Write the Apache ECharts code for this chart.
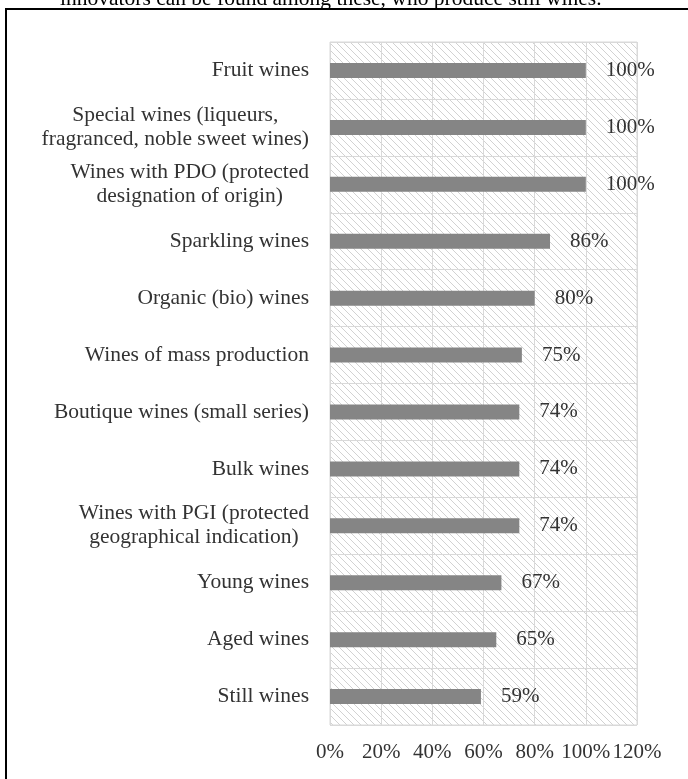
<!DOCTYPE html>
<html>
<head>
<meta charset="utf-8">
<title>Wine categories</title>
<script src="https://cdn.jsdelivr.net/npm/echarts@6/dist/echarts.min.js"></script>
<style>
  html, body { margin: 0; padding: 0; background: #ffffff; }
  #chart { width: 688px; height: 779px; }
</style>
</head>
<body>
<div id="chart"></div>
<script>
// Wine categories, listed top to bottom
const categories = [
  'Fruit wines',
  'Special wines (liqueurs,\nfragranced, noble sweet wines)',
  'Wines with PDO (protected\ndesignation of origin)',
  'Sparkling wines',
  'Organic (bio) wines',
  'Wines of mass production',
  'Boutique wines (small series)',
  'Bulk wines',
  'Wines with PGI (protected\ngeographical indication)',
  'Young wines',
  'Aged wines',
  'Still wines'
];

// Share of producers, percent
const shares = [100, 100, 100, 86, 80, 75, 74, 74, 74, 67, 65, 59];

// Value axis ticks
const axisMin = 0;
const axisMax = 120;
const axisStep = 20;

const captionText = 'innovators can be found among these, who produce still wines.';

// Diagonal hatch tile for the plot background
function hatchTile() {
  const s = 7;
  const c = document.createElement('canvas');
  c.width = s; c.height = s;
  const g = c.getContext('2d');
  g.fillStyle = '#ffffff';
  g.fillRect(0, 0, s, s);
  g.strokeStyle = '#d2d2d2';
  g.lineWidth = 1;
  g.beginPath();
  g.moveTo(-1, -1); g.lineTo(s + 1, s + 1);
  g.moveTo(-1, s - 1); g.lineTo(1, s + 1);
  g.moveTo(s - 1, -1); g.lineTo(s + 1, 1);
  g.stroke();
  return c;
}

const serif = '"Liberation Serif", "DejaVu Serif", serif';
const textColor = '#333333';
const catSize = 21.5;
const numSize = 21;

const chart = echarts.init(document.getElementById('chart'), null, { renderer: 'canvas' });

chart.setOption({
  animation: false,
  backgroundColor: '#ffffff',
  graphic: [
    {
      type: 'text',
      left: 60,
      top: -12,
      style: { text: captionText, font: '21.5px ' + serif, fill: '#000000' }
    },
    {
      type: 'rect',
      shape: { x: 6, y: 9, width: 700, height: 800 },
      style: { fill: 'none', stroke: '#000000', lineWidth: 2 },
      silent: true
    }
  ],
  grid: {
    left: 330,
    right: 51,
    top: 42,
    bottom: 54,
    show: true,
    backgroundColor: { image: hatchTile(), repeat: 'repeat' },
    borderColor: '#d9d9d9',
    borderWidth: 1
  },
  xAxis: {
    type: 'value',
    min: axisMin,
    max: axisMax,
    interval: axisStep,
    axisLine: { show: false },
    axisTick: { show: false },
    splitLine: { show: true, lineStyle: { color: '#d9d9d9', width: 1 } },
    axisLabel: {
      formatter: v => v + '%',
      fontFamily: serif,
      fontSize: numSize,
      color: textColor,
      margin: 17
    }
  },
  yAxis: {
    type: 'category',
    inverse: true,
    data: categories,
    axisLine: { show: false },
    axisTick: { show: false },
    splitLine: { show: true, interval: 0, lineStyle: { color: '#d9d9d9', width: 1 } },
    axisLabel: {
      interval: 0,
      margin: 21,
      align: 'right',
      fontFamily: serif,
      fontSize: catSize,
      color: textColor,
      lineHeight: 24,
      formatter: v => v.split('\n').map(l => '{c|' + l + '}').join('\n'),
      rich: {
        c: { align: 'center', fontFamily: serif, fontSize: catSize, color: textColor, lineHeight: 24 }
      }
    }
  },
  series: [
    {
      type: 'bar',
      data: shares,
      barWidth: 15,
      itemStyle: { color: '#858585' },
      label: {
        show: true,
        position: 'right',
        distance: 20,
        formatter: p => p.value + '%',
        fontFamily: serif,
        fontSize: numSize,
        color: textColor
      }
    }
  ]
});
</script>
</body>
</html>
